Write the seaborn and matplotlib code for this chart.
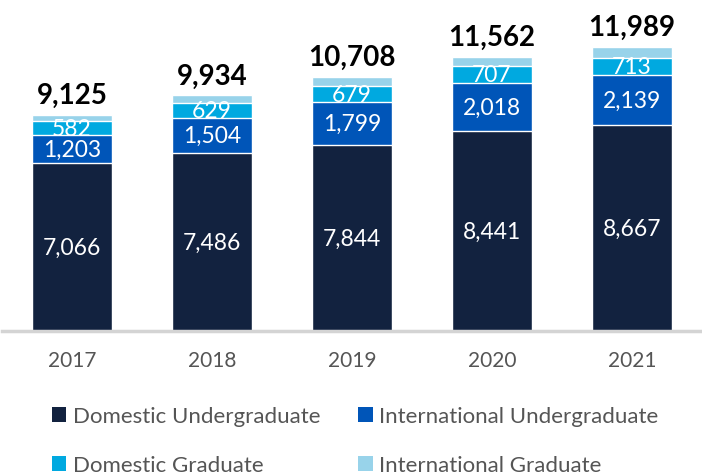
import pandas as pd
import matplotlib.pyplot as plt
import seaborn as sns
from matplotlib.patches import Patch

# Daten
years = ["2017", "2018", "2019", "2020", "2021"]
domestic_ug = [7066, 7486, 7844, 8441, 8667]
international_ug = [1203, 1504, 1799, 2018, 2139]
domestic_grad = [582, 629, 679, 707, 713]
international_grad = [274, 315, 386, 396, 470]
totals = [9125, 9934, 10708, 11562, 11989]

series_names = ["Domestic Undergraduate", "International Undergraduate",
                "Domestic Graduate", "International Graduate"]
colors = ["#12223F", "#0055B8", "#00A9E0", "#98D3EA"]

df = pd.DataFrame({
    "year": years,
    "du": domestic_ug,
    "iu": international_ug,
    "dg": domestic_grad,
    "ig": international_grad,
})
df["c1"] = df["du"]
df["c2"] = df["c1"] + df["iu"]
df["c3"] = df["c2"] + df["dg"]
df["c4"] = df["c3"] + df["ig"]

sns.set_style("white")
plt.rcParams["font.family"] = ["Lato", "DejaVu Sans"]

fig = plt.figure(figsize=(7.02, 4.77), dpi=100)
ax = fig.add_axes([0.003, 0.304, 0.997, 0.696])

# gestapelt: von oben nach unten überzeichnen
for col, color in zip(["c4", "c3", "c2", "c1"], colors[::-1]):
    sns.barplot(data=df, x="year", y=col, color=color, width=0.57,
                saturation=1, ax=ax)

ax.set_xlim(-0.5, 4.5)
ax.set_ylim(0, 14000)
ax.set_xlabel("")
ax.set_ylabel("")
ax.set_yticks([])
for s in ["top", "right", "left"]:
    ax.spines[s].set_visible(False)
ax.spines["bottom"].set_color("#D4D4D4")
ax.spines["bottom"].set_linewidth(2.5)
ax.tick_params(axis="x", length=0, pad=14, labelsize=15, labelcolor="#555555")

# Werte in den Segmenten
for i in range(len(years)):
    segs = [(0, df["c1"][i], domestic_ug[i]),
            (df["c1"][i], df["c2"][i], international_ug[i]),
            (df["c2"][i], df["c3"][i], domestic_grad[i])]
    for lo, hi, v in segs:
        ax.text(i, (lo + hi) / 2, f"{v:,}", ha="center", va="center",
                color="white", fontsize=16.5)
    ax.annotate(f"{totals[i]:,}", (i, df["c4"][i]), xytext=(0, 5),
                textcoords="offset points", ha="center", va="bottom",
                fontsize=20, fontweight="bold", color="black")

# Legende zeilenweise: matplotlib füllt spaltenweise, daher umsortieren
order = [0, 2, 1, 3]
handles = [Patch(facecolor=colors[k], edgecolor="none") for k in order]
labels = [series_names[k] for k in order]
fig.legend(handles, labels, loc="upper left", ncol=2,
           bbox_to_anchor=(0.074, 0.146), frameon=False, fontsize=16,
           labelcolor="#555555", handlelength=0.65, handleheight=0.65,
           handletextpad=0.3, columnspacing=1.7, labelspacing=1.3,
           borderaxespad=0, borderpad=0)

fig.savefig("out.png", dpi=100)
